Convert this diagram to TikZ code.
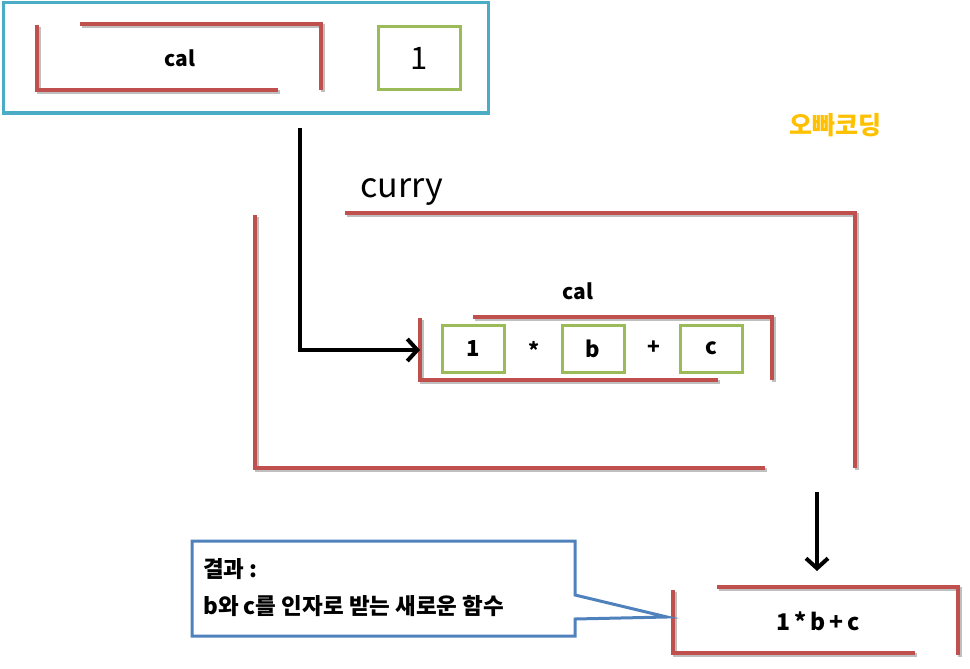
\documentclass[tikz,border=0pt]{standalone}
\usepackage{fontspec}
\setmainfont{Noto Sans CJK KR}
\usetikzlibrary{arrows.meta}
\definecolor{redline}{HTML}{C0504D}
\definecolor{greenline}{HTML}{9BBB59}
\definecolor{cyanline}{HTML}{4BACC6}
\definecolor{blueline}{HTML}{4F81BD}
\definecolor{gold}{HTML}{FFC000}
\tikzset{
  brk/.style={draw=redline, line width=4pt},
  brkshadow/.style={draw=black!25, line width=4pt},
  gbox/.style={draw=greenline, line width=3pt, minimum width=62pt, minimum height=47pt, inner sep=0pt, font=\bfseries\fontsize{22}{26}\selectfont},
  lbl/.style={inner sep=0pt, font=\bfseries\fontsize{21}{25}\selectfont},
  arr/.style={line width=4pt, -{Straight Barb[length=10pt,width=22pt,line width=4pt]}},
}
\begin{document}
\begin{tikzpicture}[x=1pt,y=-1pt]
\useasboundingbox (0,0) rectangle (970,669);
% top blue box
\node[draw=cyanline, line width=3pt, minimum width=485pt, minimum height=110pt, inner sep=0pt] (top) at (245.5,58) {};
% bracket shadows
\begin{scope}[shift={(1.5,2)}]
\draw[brkshadow] (80,24) -- (321,24) -- (321,90);
\draw[brkshadow] (37,25) -- (37,90) -- (278,90);
\draw[brkshadow] (345,213) -- (855,213) -- (855,468);
\draw[brkshadow] (255,215) -- (255,468) -- (765,468);
\draw[brkshadow] (473,317) -- (772,317) -- (772,380);
\draw[brkshadow] (420,318) -- (420,380) -- (718,380);
\draw[brkshadow] (717,587) -- (958,587) -- (958,655);
\draw[brkshadow] (673,590) -- (673,653) -- (915,653);
\end{scope}
% bracket 1 (cal)
\draw[brk] (80,24) -- (321,24) -- (321,90);
\draw[brk] (37,25) -- (37,90) -- (278,90);
\node[lbl] (cal1) at (180,58) {cal};
\node[draw=greenline, line width=3pt, minimum width=82pt, minimum height=63pt, inner sep=0pt, font=\fontsize{31}{35}\selectfont] (one) at (419,58.5) {1};
% curry bracket
\node[inner sep=0pt, anchor=west, font=\fontsize{34}{38}\selectfont] (curry) at (360,192) {curry};
\draw[brk] (345,213) -- (855,213) -- (855,468);
\draw[brk] (255,215) -- (255,468) -- (765,468);
% inner cal bracket
\node[lbl] (cal2) at (578,291) {cal};
\draw[brk] (473,317) -- (772,317) -- (772,380);
\draw[brk] (420,318) -- (420,380) -- (718,380);
\coordinate (inL) at (420,350);
\node[gbox] (b1) at (473,348.5) {1};
\node[lbl] (star) at (534,350) {*};
\node[gbox] (bb) at (593,348.5) {b};
\node[lbl] (plus) at (654,348) {+};
\node[gbox] (bc) at (711,348.5) {c};
% arrow from top box to inner bracket
\coordinate (aStart) at (300,128);
\draw[arr] (aStart) |- (inL);
% down arrow
\coordinate (dStart) at (817,492);
\coordinate (dEnd) at (817,571);
\draw[arr] (dStart) -- (dEnd);
% result bracket
\draw[brk] (717,587) -- (958,587) -- (958,655);
\draw[brk] (673,590) -- (673,653) -- (915,653);
\node[lbl, font=\bfseries\fontsize{23}{27}\selectfont] (res) at (818,621) {1\,*\,b\,+\,c};
% callout
\coordinate (tip) at (667,617);
\draw[draw=blueline, line width=3pt, fill=white, line join=miter]
  (192,541) -- (575,541) -- (575,595) -- (tip) -- (575,619) -- (575,636) -- (192,636) -- cycle;
\node[inner sep=0pt, anchor=north west, align=left, font=\bfseries\fontsize{22.5}{37}\selectfont] (callout) at (203,558) {결과 :\\b와 c를 인자로 받는 새로운 함수};
% watermark
\node[inner sep=0pt, text=gold, font=\bfseries\fontsize{25}{29}\selectfont] (wm) at (835,125) {오빠코딩};
\end{tikzpicture}
\end{document}
